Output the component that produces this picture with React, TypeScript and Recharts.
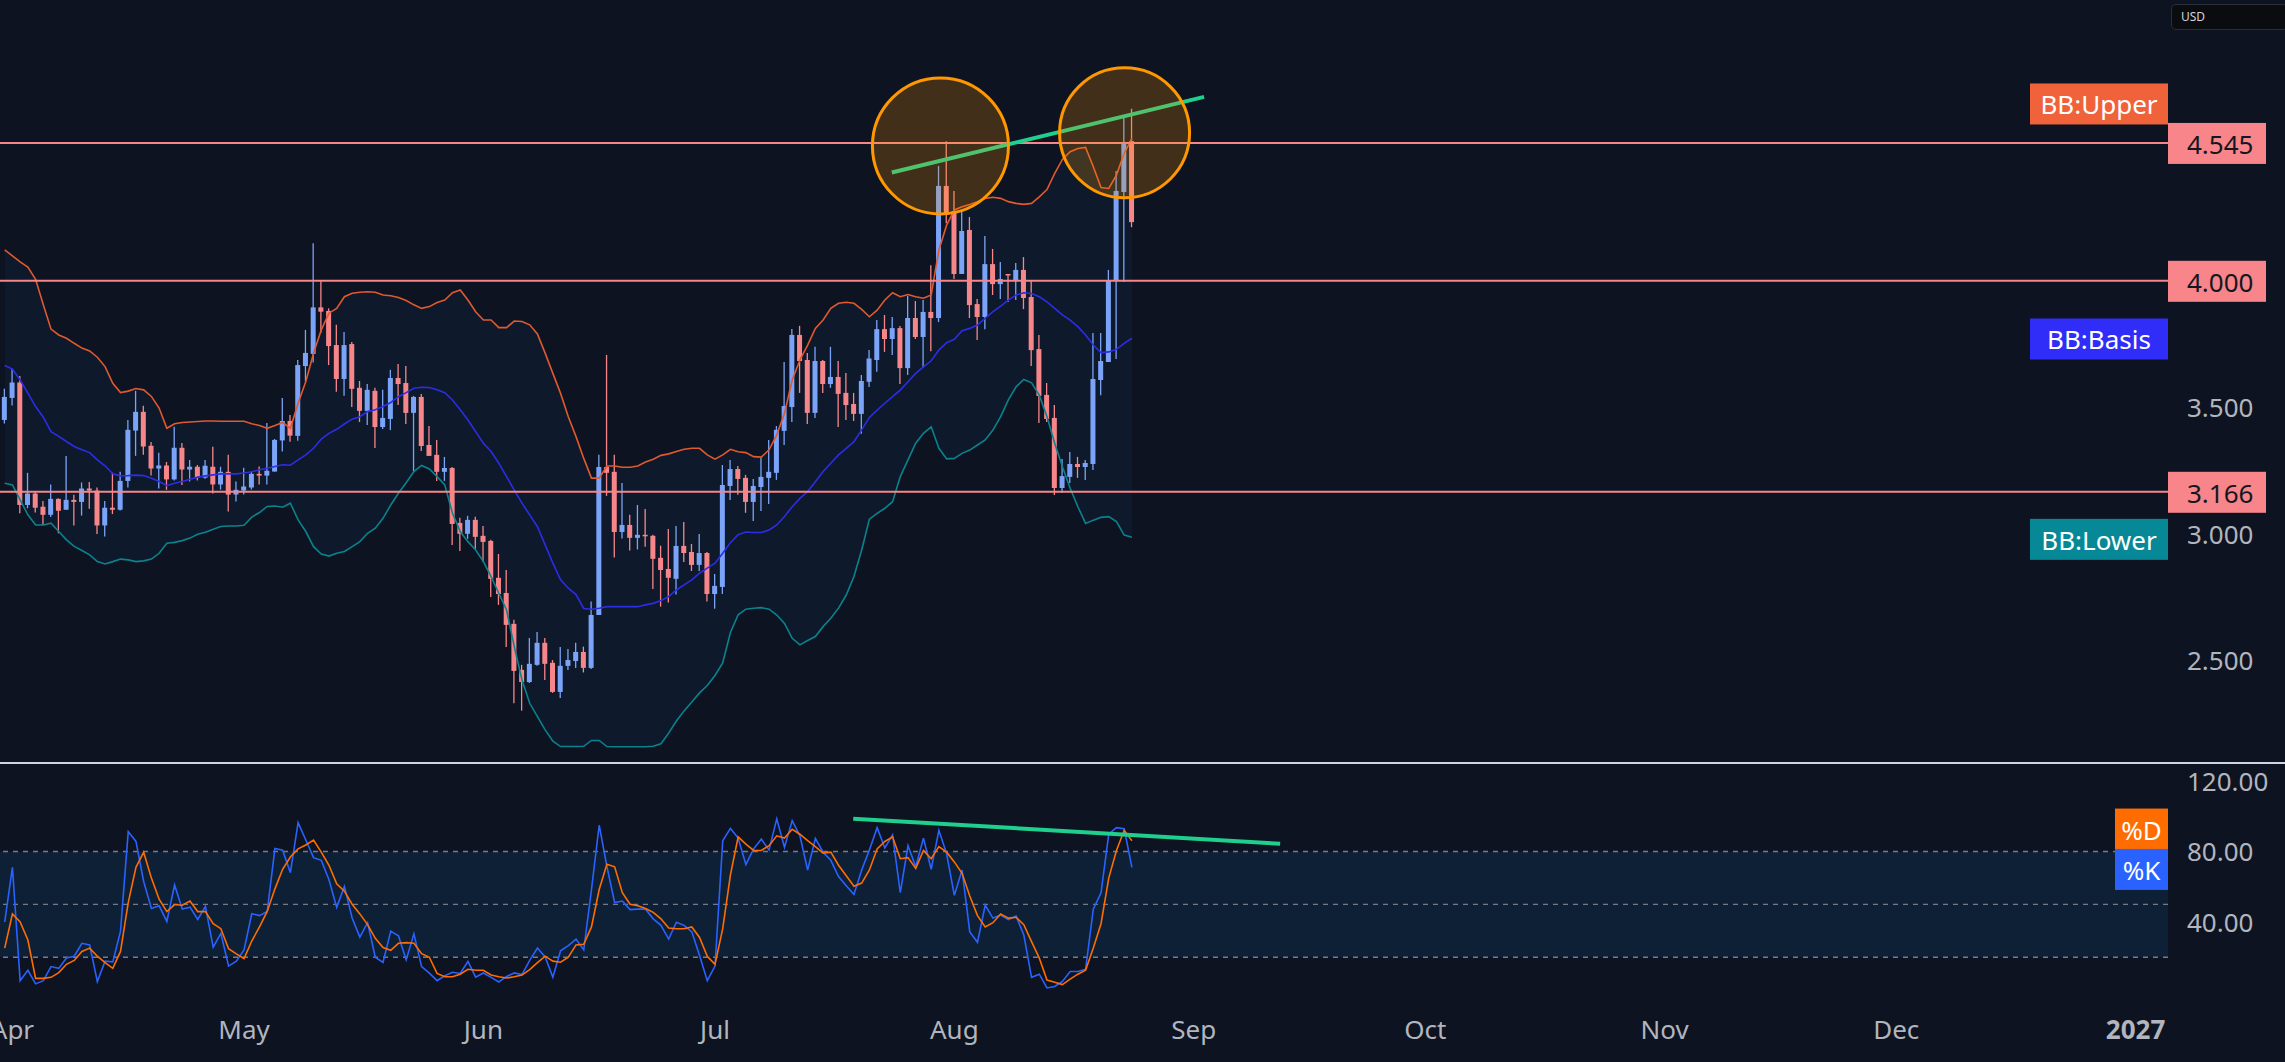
import React from "react";
import {
  ComposedChart,
  Bar,
  Line,
  Area,
  XAxis,
  YAxis,
  ReferenceLine,
  ReferenceDot,
  ReferenceArea,
} from "recharts";

// daily candles, day 0 = Apr 1
const FIRST_DAY = -1;

const OPEN = [
  3.450, 3.537, 3.598, 3.114, 3.159, 3.107, 3.075, 3.138, 3.095, 3.134,
  3.126, 3.179, 3.171, 3.033, 3.103, 3.095, 3.209, 3.408, 3.482, 3.348,
  3.258, 3.270, 3.215, 3.340, 3.254, 3.265, 3.222, 3.265, 3.195, 3.245,
  3.155, 3.171, 3.183, 3.237, 3.230, 3.246, 3.369, 3.446, 3.387, 3.663,
  3.711, 3.895, 3.881, 3.746, 3.612, 3.750, 3.577, 3.486, 3.565, 3.422,
  3.454, 3.616, 3.596, 3.478, 3.541, 3.351, 3.312, 3.245, 3.260, 3.043,
  3.000, 3.055, 2.992, 2.972, 2.826, 2.766, 2.644, 2.462, 2.414, 2.482,
  2.569, 2.490, 2.375, 2.478, 2.497, 2.533, 2.470, 2.679, 3.264, 3.245,
  3.007, 3.035, 2.984, 2.996, 2.992, 2.905, 2.861, 2.822, 2.952, 2.928,
  2.877, 2.924, 2.762, 2.790, 3.189, 3.256, 3.221, 3.126, 3.185, 3.221,
  3.241, 3.407, 3.501, 3.786, 3.687, 3.478, 3.683, 3.592, 3.620, 3.557,
  3.513, 3.474, 3.601, 3.687, 3.809, 3.770, 3.813, 3.655, 3.853, 3.778,
  3.877, 3.853, 4.375, 4.276, 4.027, 4.201, 3.908, 3.857, 4.066, 3.987,
  4.027, 4.000, 4.043, 3.936, 3.730, 3.549, 3.458, 3.181, 3.225, 3.276,
  3.264, 3.276, 3.608, 3.679, 4.003, 4.351, 4.552,
];
const HIGH = [
  3.573, 3.652, 3.624, 3.241, 3.167, 3.130, 3.195, 3.140, 3.308, 3.154,
  3.203, 3.205, 3.183, 3.130, 3.242, 3.245, 3.450, 3.565, 3.506, 3.363,
  3.320, 3.284, 3.423, 3.359, 3.292, 3.272, 3.292, 3.344, 3.265, 3.312,
  3.207, 3.261, 3.245, 3.266, 3.438, 3.375, 3.537, 3.470, 3.687, 3.806,
  4.148, 4.001, 3.891, 3.826, 3.798, 3.758, 3.604, 3.592, 3.577, 3.569,
  3.648, 3.671, 3.663, 3.545, 3.553, 3.426, 3.371, 3.304, 3.264, 3.063,
  3.071, 3.067, 3.031, 2.976, 2.920, 2.857, 2.660, 2.482, 2.588, 2.612,
  2.588, 2.501, 2.553, 2.545, 2.569, 2.554, 2.732, 3.312, 3.707, 3.312,
  3.201, 3.075, 3.114, 3.098, 2.996, 2.953, 3.019, 3.031, 3.047, 2.960,
  2.999, 2.928, 2.841, 3.272, 3.292, 3.268, 3.233, 3.217, 3.300, 3.371,
  3.426, 3.679, 3.810, 3.822, 3.715, 3.739, 3.687, 3.739, 3.683, 3.636,
  3.557, 3.628, 3.727, 3.845, 3.865, 3.857, 3.821, 3.940, 3.920, 3.924,
  4.062, 4.454, 4.552, 4.355, 4.272, 4.252, 3.928, 4.177, 4.126, 4.074,
  4.027, 4.070, 4.094, 3.999, 3.786, 3.596, 3.509, 3.296, 3.323, 3.304,
  3.292, 3.794, 3.794, 4.043, 4.434, 4.655, 4.680,
];
const LOW = [
  3.436, 3.507, 3.081, 3.101, 3.084, 3.035, 3.066, 3.002, 3.095, 3.033,
  3.072, 3.099, 2.999, 2.989, 3.078, 3.092, 3.183, 3.308, 3.312, 3.230,
  3.179, 3.174, 3.211, 3.193, 3.207, 3.211, 3.218, 3.159, 3.175, 3.088,
  3.128, 3.155, 3.175, 3.195, 3.195, 3.246, 3.325, 3.364, 3.368, 3.602,
  3.677, 3.795, 3.667, 3.561, 3.546, 3.501, 3.442, 3.430, 3.339, 3.414,
  3.410, 3.509, 3.434, 3.248, 3.327, 3.308, 3.209, 3.209, 2.956, 2.932,
  2.980, 2.940, 2.889, 2.750, 2.719, 2.553, 2.330, 2.301, 2.410, 2.478,
  2.422, 2.371, 2.351, 2.462, 2.470, 2.452, 2.466, 2.679, 3.150, 2.906,
  2.981, 2.934, 2.938, 2.949, 2.782, 2.712, 2.728, 2.760, 2.889, 2.853,
  2.853, 2.732, 2.704, 2.762, 3.134, 3.154, 3.083, 3.051, 3.090, 3.118,
  3.213, 3.351, 3.442, 3.557, 3.434, 3.458, 3.557, 3.577, 3.422, 3.450,
  3.446, 3.395, 3.580, 3.641, 3.719, 3.707, 3.592, 3.628, 3.770, 3.655,
  3.722, 3.837, 4.228, 4.007, 4.027, 3.853, 3.766, 3.809, 3.944, 3.928,
  3.916, 3.924, 3.888, 3.663, 3.438, 3.442, 3.153, 3.161, 3.201, 3.221,
  3.213, 3.252, 3.548, 3.679, 3.691, 3.995, 4.212,
];
const CLOSE = [
  3.541, 3.598, 3.114, 3.159, 3.103, 3.075, 3.138, 3.091, 3.134, 3.126,
  3.179, 3.171, 3.033, 3.103, 3.095, 3.209, 3.411, 3.482, 3.345, 3.258,
  3.270, 3.215, 3.340, 3.254, 3.265, 3.222, 3.269, 3.195, 3.245, 3.155,
  3.174, 3.187, 3.237, 3.230, 3.249, 3.371, 3.446, 3.388, 3.667, 3.715,
  3.895, 3.878, 3.742, 3.612, 3.746, 3.573, 3.486, 3.569, 3.422, 3.458,
  3.616, 3.592, 3.478, 3.541, 3.347, 3.308, 3.245, 3.260, 3.039, 3.000,
  3.055, 2.988, 2.968, 2.822, 2.762, 2.640, 2.458, 2.414, 2.486, 2.569,
  2.486, 2.375, 2.478, 2.501, 2.533, 2.470, 2.679, 3.264, 3.241, 3.007,
  3.035, 2.984, 2.996, 2.992, 2.901, 2.857, 2.826, 2.952, 2.924, 2.877,
  2.924, 2.762, 2.794, 3.193, 3.256, 3.217, 3.126, 3.189, 3.225, 3.245,
  3.411, 3.505, 3.786, 3.683, 3.478, 3.683, 3.592, 3.620, 3.553, 3.509,
  3.474, 3.604, 3.693, 3.809, 3.770, 3.813, 3.655, 3.853, 3.778, 3.877,
  3.853, 4.375, 4.268, 4.027, 4.197, 3.904, 3.857, 4.066, 3.987, 4.007,
  4.023, 4.043, 3.932, 3.726, 3.545, 3.454, 3.181, 3.228, 3.276, 3.264,
  3.280, 3.612, 3.683, 4.003, 4.355, 4.549, 4.232,
];

// Bollinger bands
const BB_UPPER = [
  4.122, 4.099, 4.075, 4.054, 4.006, 3.905, 3.809, 3.786, 3.773, 3.753,
  3.734, 3.723, 3.698, 3.661, 3.595, 3.558, 3.564, 3.574, 3.569, 3.543,
  3.497, 3.417, 3.435, 3.440, 3.442, 3.444, 3.446, 3.446, 3.445, 3.445,
  3.445, 3.445, 3.435, 3.428, 3.417, 3.428, 3.440, 3.417, 3.516, 3.602,
  3.714, 3.806, 3.872, 3.891, 3.937, 3.951, 3.955, 3.957, 3.955, 3.944,
  3.941, 3.934, 3.922, 3.905, 3.891, 3.898, 3.914, 3.924, 3.953, 3.964,
  3.924, 3.878, 3.845, 3.845, 3.815, 3.815, 3.841, 3.839, 3.826, 3.790,
  3.714, 3.634, 3.555, 3.463, 3.384, 3.298, 3.220, 3.220, 3.268, 3.268,
  3.263, 3.263, 3.268, 3.284, 3.295, 3.310, 3.316, 3.325, 3.334, 3.338,
  3.338, 3.312, 3.295, 3.312, 3.334, 3.324, 3.321, 3.305, 3.303, 3.332,
  3.391, 3.476, 3.608, 3.687, 3.746, 3.812, 3.845, 3.891, 3.911, 3.915,
  3.911, 3.887, 3.858, 3.884, 3.924, 3.953, 3.937, 3.946, 3.937, 3.931,
  3.944, 4.122, 4.220, 4.280, 4.293, 4.302, 4.313, 4.326, 4.330, 4.326,
  4.313, 4.306, 4.302, 4.306, 4.332, 4.361, 4.425, 4.480, 4.510, 4.523,
  4.527, 4.451, 4.369, 4.365, 4.418, 4.504, 4.563,
];
const BB_BASIS = [
  3.665, 3.651, 3.608, 3.556, 3.503, 3.461, 3.404, 3.385, 3.365, 3.345,
  3.332, 3.321, 3.292, 3.269, 3.237, 3.229, 3.230, 3.232, 3.230, 3.220,
  3.207, 3.190, 3.200, 3.207, 3.216, 3.224, 3.229, 3.233, 3.237, 3.237,
  3.237, 3.240, 3.245, 3.253, 3.259, 3.266, 3.273, 3.271, 3.292, 3.312,
  3.338, 3.374, 3.397, 3.413, 3.434, 3.453, 3.463, 3.483, 3.490, 3.503,
  3.519, 3.542, 3.558, 3.575, 3.579, 3.578, 3.569, 3.558, 3.529, 3.490,
  3.450, 3.404, 3.358, 3.325, 3.279, 3.226, 3.173, 3.121, 3.075, 3.028,
  2.956, 2.884, 2.818, 2.785, 2.760, 2.705, 2.702, 2.706, 2.712, 2.712,
  2.712, 2.712, 2.712, 2.719, 2.725, 2.736, 2.752, 2.778, 2.798, 2.818,
  2.844, 2.864, 2.884, 2.923, 2.965, 2.996, 3.007, 3.005, 3.005, 3.015,
  3.035, 3.068, 3.107, 3.140, 3.167, 3.206, 3.246, 3.279, 3.312, 3.338,
  3.364, 3.411, 3.460, 3.489, 3.516, 3.542, 3.568, 3.601, 3.634, 3.660,
  3.684, 3.726, 3.755, 3.769, 3.803, 3.812, 3.825, 3.852, 3.878, 3.900,
  3.924, 3.944, 3.953, 3.950, 3.937, 3.917, 3.891, 3.865, 3.845, 3.819,
  3.786, 3.746, 3.716, 3.719, 3.729, 3.753, 3.773,
];
const BB_LOWER = [
  3.200, 3.193, 3.134, 3.075, 3.035, 3.035, 3.042, 3.009, 2.976, 2.950,
  2.934, 2.917, 2.890, 2.881, 2.890, 2.900, 2.897, 2.890, 2.893, 2.900,
  2.923, 2.963, 2.966, 2.973, 2.983, 2.998, 3.006, 3.018, 3.029, 3.031,
  3.031, 3.034, 3.066, 3.084, 3.108, 3.110, 3.105, 3.121, 3.055, 3.009,
  2.949, 2.920, 2.912, 2.923, 2.930, 2.949, 2.969, 3.002, 3.022, 3.061,
  3.114, 3.160, 3.202, 3.246, 3.270, 3.256, 3.226, 3.193, 3.081, 3.009,
  2.969, 2.936, 2.890, 2.831, 2.765, 2.699, 2.554, 2.422, 2.330, 2.277,
  2.225, 2.180, 2.159, 2.159, 2.159, 2.160, 2.183, 2.183, 2.159, 2.158,
  2.158, 2.158, 2.158, 2.158, 2.160, 2.170, 2.212, 2.260, 2.300, 2.335,
  2.371, 2.400, 2.440, 2.490, 2.610, 2.680, 2.702, 2.706, 2.708, 2.702,
  2.679, 2.646, 2.587, 2.561, 2.578, 2.594, 2.633, 2.666, 2.706, 2.758,
  2.831, 2.936, 3.058, 3.081, 3.101, 3.127, 3.226, 3.292, 3.358, 3.397,
  3.423, 3.338, 3.296, 3.298, 3.318, 3.331, 3.351, 3.371, 3.410, 3.463,
  3.529, 3.581, 3.610, 3.597, 3.548, 3.463, 3.358, 3.265, 3.180, 3.107,
  3.041, 3.054, 3.065, 3.068, 3.048, 2.995, 2.986,
];

// Stochastic
const STOCH_K = [
  40.0, 71.0, 6.7, 12.6, 4.9, 6.7, 14.7, 13.7, 19.6, 20.6,
  27.9, 27.0, 6.2, 17.8, 17.4, 34.8, 91.3, 85.7, 63.0, 47.7,
  49.2, 40.3, 61.0, 47.3, 48.4, 41.4, 48.8, 25.7, 33.5, 15.0,
  17.8, 24.2, 44.7, 43.6, 46.0, 81.7, 80.7, 68.0, 96.4, 86.5,
  76.5, 75.0, 64.0, 48.3, 60.1, 42.3, 31.4, 39.6, 20.0, 17.1,
  34.8, 32.2, 18.5, 33.3, 14.7, 11.0, 6.7, 9.5, 11.5, 10.8,
  17.6, 8.7, 11.1, 8.6, 6.0, 9.1, 11.1, 10.2, 18.2, 25.2,
  20.2, 8.6, 23.7, 26.6, 30.3, 24.2, 58.4, 94.9, 71.5, 51.0,
  51.9, 47.0, 47.3, 47.3, 41.8, 38.1, 30.3, 39.9, 38.1, 34.4,
  21.0, 6.7, 15.0, 86.1, 93.1, 87.6, 72.6, 81.5, 87.0, 80.9,
  98.5, 82.4, 97.5, 88.9, 69.5, 87.4, 79.6, 75.0, 65.8, 60.6,
  55.6, 69.5, 80.9, 93.5, 82.0, 89.4, 56.6, 83.3, 71.3, 87.6,
  69.9, 92.0, 78.7, 55.1, 69.5, 34.4, 28.5, 49.5, 42.2, 44.0,
  41.4, 43.3, 32.6, 8.6, 10.4, 2.6, 3.4, 6.3, 11.9, 11.9,
  13.2, 47.3, 56.6, 89.8, 93.5, 92.9, 71.0,
];
const STOCH_D = [
  25.2, 44.6, 40.0, 29.8, 8.0, 8.0, 8.6, 11.3, 16.0, 18.2,
  23.3, 25.2, 20.6, 16.9, 13.7, 23.3, 51.0, 71.0, 79.6, 64.9,
  52.9, 45.9, 49.9, 49.5, 51.9, 45.9, 45.9, 39.0, 36.2, 24.8,
  21.9, 19.3, 29.2, 37.2, 46.0, 58.8, 69.9, 76.9, 81.5, 83.7,
  86.5, 79.6, 72.2, 61.7, 57.5, 50.1, 44.6, 38.5, 30.7, 25.5,
  23.9, 27.9, 28.3, 27.9, 22.0, 20.0, 10.8, 8.9, 8.9, 10.4,
  13.2, 12.6, 12.6, 9.9, 8.9, 8.2, 8.9, 9.9, 13.0, 16.9,
  20.6, 17.8, 17.2, 20.0, 27.0, 27.4, 37.2, 58.4, 72.8, 71.3,
  56.6, 50.1, 49.2, 47.7, 45.5, 41.8, 36.6, 36.2, 36.2, 37.2,
  31.2, 20.6, 16.0, 36.2, 66.7, 88.3, 84.2, 80.6, 80.6, 83.3,
  88.9, 87.6, 92.6, 89.8, 86.1, 82.8, 79.1, 79.6, 72.2, 66.2,
  60.3, 62.1, 69.5, 81.5, 85.7, 88.3, 75.9, 76.5, 70.4, 80.6,
  75.9, 82.8, 79.6, 74.1, 67.6, 54.7, 43.6, 37.2, 39.6, 44.6,
  42.2, 42.7, 38.5, 28.9, 19.6, 7.1, 5.8, 4.5, 7.6, 10.4,
  12.6, 25.2, 39.0, 64.9, 80.6, 92.0, 86.1,
];

// axis ticks
const MONTH_TICKS = [0, 30, 61, 91, 122, 153, 183, 214, 244, 275];
const MONTH_LABELS = ["Apr", "May", "Jun", "Jul", "Aug", "Sep", "Oct", "Nov", "Dec", "2027"];
const PRICE_TICKS = [2.5, 3.0, 3.5];
const STOCH_TICKS = [40, 80, 120];
const PRICE_LEVELS = [4.545, 4.0, 3.166];
const STOCH_LEVELS = [80, 50, 20];

// drawings (day, value)
const CIRCLES = [
  { day: 120.2, value: 4.533, r: 68 },
  { day: 144.05, value: 4.585, r: 65 },
];
const PRICE_TREND = [
  { x: 113.9, y: 4.428 },
  { x: 154.35, y: 4.727 },
];
const STOCH_TREND = [
  { x: 108.9, y: 98.6 },
  { x: 164.2, y: 84.4 },
];
const BB_TAGS = [
  { text: "BB:Upper", value: 4.701, color: "#f0623a" },
  { text: "BB:Basis", value: 3.772, color: "#2f2df7" },
  { text: "BB:Lower", value: 2.98, color: "#078896" },
];
const STOCH_TAGS = [
  { text: "%D", value: 93.0, color: "#ff6d00" },
  { text: "%K", value: 70.1, color: "#2962ff" },
];

const X_DOMAIN = [-1.61, 279.2];
const PRICE_DOMAIN = [2.094, 5.11];
const STOCH_DOMAIN = [-7.09, 130.2];

const BG = "#0d1320";
const UP = "#7ba3f7";
const DOWN = "#f7868a";
const TEXT = "#b2b5be";
const FONT = '"Noto Sans", "DejaVu Sans", sans-serif';
const AXIS_W = 117;
const W = 2285;

const data = OPEN.map((o, i) => ({
  day: FIRST_DAY + i,
  open: o,
  high: HIGH[i],
  low: LOW[i],
  close: CLOSE[i],
  range: [LOW[i], HIGH[i]],
  upper: BB_UPPER[i],
  basis: BB_BASIS[i],
  lower: BB_LOWER[i],
  band: [BB_LOWER[i], BB_UPPER[i]],
  k: STOCH_K[i],
  d: STOCH_D[i],
}));

const Candle = (props: any) => {
  const { x, y, width, height, payload } = props;
  if (!payload) return null;
  const { open, high, low, close } = payload;
  const top = height < 0 ? y + height : y;
  const h = Math.abs(height);
  const k = h / (high - low || 1);
  const yo = top + (high - open) * k;
  const yc = top + (high - close) * k;
  const color = close >= open ? UP : DOWN;
  const cx = x + width / 2;
  return (
    <g>
      <line x1={cx} x2={cx} y1={top} y2={top + h} stroke={color} strokeWidth={1.3} />
      <rect
        x={x}
        y={Math.min(yo, yc)}
        width={width}
        height={Math.max(1.5, Math.abs(yo - yc))}
        fill={color}
      />
    </g>
  );
};

const PriceTag = (props: any) => {
  const vb = props.viewBox || {};
  const x = vb.x + vb.width;
  const y = vb.y;
  return (
    <g>
      <rect x={x} y={y - 20} width={98} height={41} fill="#f88589" />
      <text x={x + 19} y={y + 1} fill="#131722" fontSize={26} dominantBaseline="central">
        {props.text}
      </text>
    </g>
  );
};

const SeriesTag = (props: any) => {
  const { cx, cy, text, color, w } = props;
  return (
    <g>
      <rect x={cx - w} y={cy - 20} width={w} height={41} fill={color} />
      <text x={cx - w / 2} y={cy + 1} fill="#ffffff" fontSize={26} textAnchor="middle" dominantBaseline="central">
        {text}
      </text>
    </g>
  );
};

const ValueTick = (props: any) => {
  const { x, y, payload, digits } = props;
  return (
    <text x={x + 19} y={y} fill={TEXT} fontSize={26} textAnchor="start" dominantBaseline="central">
      {Number(payload.value).toFixed(digits)}
    </text>
  );
};

const MonthTick = (props: any) => {
  const { x, y, payload } = props;
  const i = MONTH_TICKS.indexOf(payload.value);
  const label = MONTH_LABELS[i];
  return (
    <text
      x={x}
      y={y + 24}
      fill={TEXT}
      fontSize={26}
      fontWeight={label === "2027" ? 700 : 400}
      textAnchor="middle"
      dominantBaseline="central"
    >
      {label}
    </text>
  );
};

const tagWidth = (t: string) => (t.length > 3 ? 22 + t.length * 14.5 : 53);

export default function App() {
  return (
    <div
      style={{
        position: "absolute",
        left: 0,
        top: 0,
        width: W,
        height: 1062,
        background: BG,
        fontFamily: FONT,
        overflow: "hidden",
      }}
    >
      <ComposedChart width={W} height={763} data={data} margin={{ top: 0, right: 0, bottom: 0, left: 0 }}>
        <XAxis dataKey="day" type="number" domain={X_DOMAIN} allowDataOverflow hide />
        <YAxis
          orientation="right"
          width={AXIS_W}
          domain={PRICE_DOMAIN}
          allowDataOverflow
          ticks={PRICE_TICKS}
          axisLine={false}
          tickLine={false}
          tickSize={0}
          tickMargin={0}
          tick={(p: any) => <ValueTick {...p} digits={3} />}
        />
        <Area
          dataKey="band"
          type="linear"
          stroke="none"
          fill="#2196f3"
          fillOpacity={0.06}
          dot={false}
          activeDot={false}
          isAnimationActive={false}
        />
        {CIRCLES.map((c, i) => (
          <ReferenceDot
            key={`c${i}`}
            x={c.day}
            y={c.value}
            r={c.r}
            fill="#ff9800"
            fillOpacity={0.22}
            stroke="#ff9800"
            strokeWidth={3}
            ifOverflow="visible"
          />
        ))}
        <Line dataKey="upper" type="linear" stroke="#e0592f" strokeWidth={1.6} dot={false} activeDot={false} isAnimationActive={false} />
        <Line dataKey="basis" type="linear" stroke="#2d2ce6" strokeWidth={1.6} dot={false} activeDot={false} isAnimationActive={false} />
        <Line dataKey="lower" type="linear" stroke="#0b828c" strokeWidth={1.6} dot={false} activeDot={false} isAnimationActive={false} />
        {PRICE_LEVELS.map((v) => (
          <ReferenceLine
            key={v}
            y={v}
            stroke="#f7868a"
            strokeWidth={2}
            ifOverflow="visible"
            label={<PriceTag text={v.toFixed(3)} />}
          />
        ))}
        <Bar dataKey="range" barSize={5} shape={<Candle />} activeBar={false} isAnimationActive={false} />
        <ReferenceLine segment={PRICE_TREND} stroke="#1fcf8d" strokeWidth={4} ifOverflow="visible" />
        {BB_TAGS.map((t) => (
          <ReferenceDot
            key={t.text}
            x={X_DOMAIN[1]}
            y={t.value}
            ifOverflow="visible"
            shape={(p: any) => <SeriesTag {...p} text={t.text} color={t.color} w={tagWidth(t.text)} />}
          />
        ))}
      </ComposedChart>

      <div style={{ position: "absolute", left: 0, top: 762, width: W, height: 1.5, background: "#d1d4dc" }} />

      <ComposedChart width={W} height={299} data={data} margin={{ top: 0, right: 0, bottom: 0, left: 0 }}>
        <XAxis
          dataKey="day"
          type="number"
          domain={X_DOMAIN}
          allowDataOverflow
          ticks={MONTH_TICKS}
          height={57}
          axisLine={false}
          tickLine={false}
          tickSize={0}
          tickMargin={0}
          interval={0}
          tick={<MonthTick />}
        />
        <YAxis
          orientation="right"
          width={AXIS_W}
          domain={STOCH_DOMAIN}
          allowDataOverflow
          ticks={STOCH_TICKS}
          axisLine={false}
          tickLine={false}
          tickSize={0}
          tickMargin={0}
          tick={(p: any) => <ValueTick {...p} digits={2} />}
        />
        <ReferenceArea y1={20} y2={80} fill="#2196f3" fillOpacity={0.1} stroke="none" ifOverflow="visible" />
        {STOCH_LEVELS.map((v) => (
          <ReferenceLine key={v} y={v} stroke="#787b86" strokeWidth={1.3} strokeDasharray="5 5" />
        ))}
        <Line dataKey="k" type="linear" stroke="#2962ff" strokeWidth={1.6} dot={false} activeDot={false} isAnimationActive={false} />
        <Line dataKey="d" type="linear" stroke="#ff6d00" strokeWidth={1.6} dot={false} activeDot={false} isAnimationActive={false} />
        <ReferenceLine segment={STOCH_TREND} stroke="#1fcf8d" strokeWidth={4} ifOverflow="visible" />
        {STOCH_TAGS.map((t) => (
          <ReferenceDot
            key={t.text}
            x={X_DOMAIN[1]}
            y={t.value}
            ifOverflow="visible"
            shape={(p: any) => <SeriesTag {...p} text={t.text} color={t.color} w={tagWidth(t.text)} />}
          />
        ))}
      </ComposedChart>

      <div
        style={{
          position: "absolute",
          left: 2171,
          top: 4,
          width: 106,
          height: 24,
          border: "1.5px solid #2a2e39",
          borderRadius: 5,
          background: "#0b0c0f",
          color: "#d1d4dc",
          fontSize: 12,
          lineHeight: "24px",
          paddingLeft: 9,
          boxSizing: "content-box",
        }}
      >
        USD
      </div>
    </div>
  );
}
